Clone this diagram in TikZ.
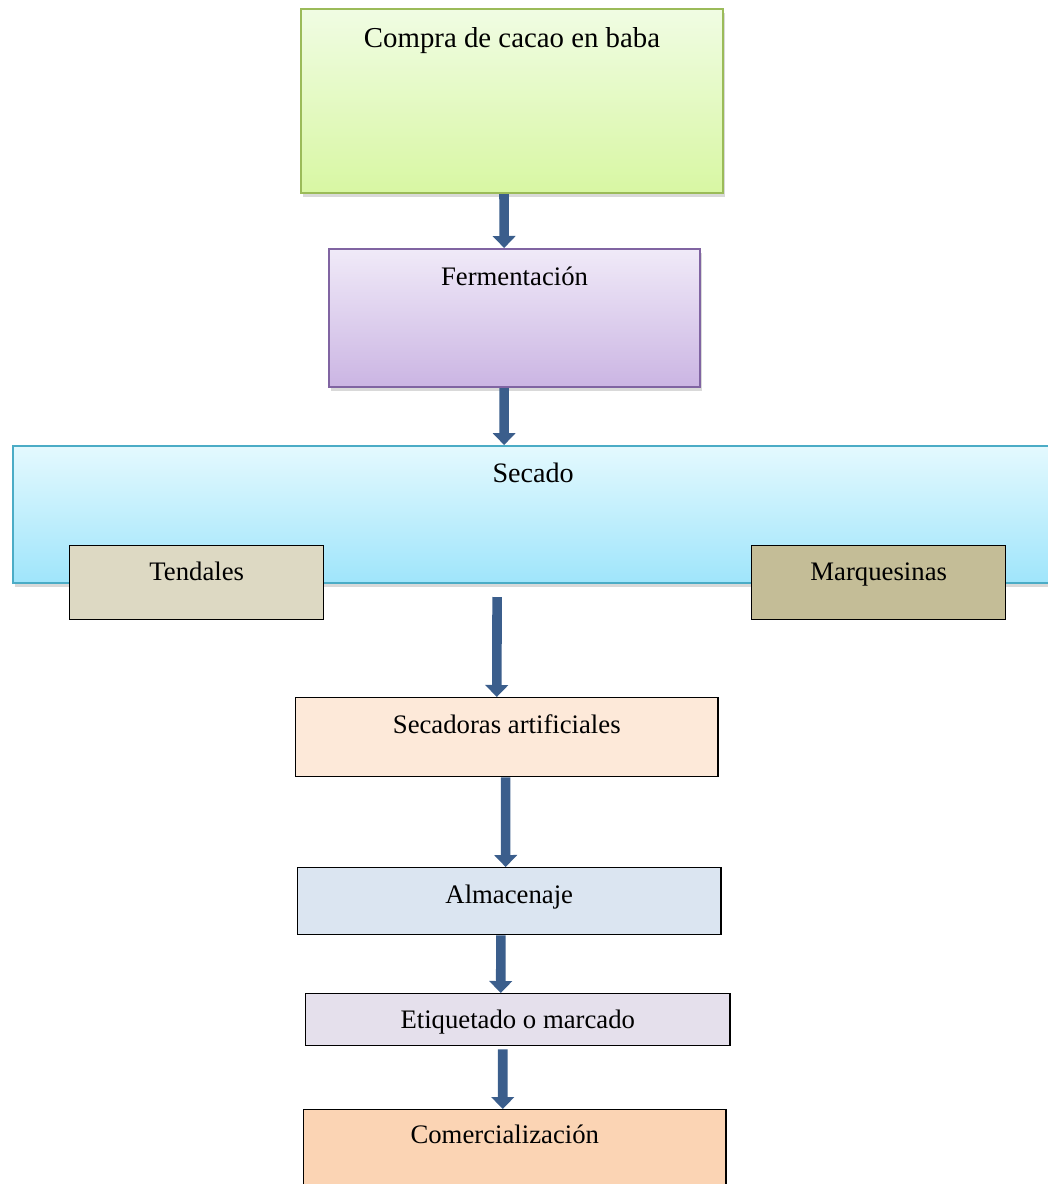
\documentclass[tikz,border=0pt]{standalone}
\usepackage{fontspec}
\setmainfont{Liberation Serif}
\usetikzlibrary{arrows.meta, shadows}

\definecolor{greentop}{HTML}{F0FCE3}
\definecolor{greenbot}{HTML}{D8F7A3}
\definecolor{greenline}{HTML}{9BBB59}
\definecolor{lilactop}{HTML}{F0EAF8}
\definecolor{lilacbot}{HTML}{CBB5E3}
\definecolor{lilacline}{HTML}{8064A2}
\definecolor{skytop}{HTML}{E4F9FE}
\definecolor{skybot}{HTML}{9FE5FB}
\definecolor{skyline}{HTML}{4BACC6}
\definecolor{tendalfill}{HTML}{DDD9C3}
\definecolor{marquefill}{HTML}{C4BD97}
\definecolor{peachfill}{HTML}{FDE9D9}
\definecolor{steelfill}{HTML}{DBE5F1}
\definecolor{mauvefill}{HTML}{E5E0EC}
\definecolor{apricotfill}{HTML}{FBD4B4}
\definecolor{arrowblue}{HTML}{3B5E8C}

\begin{document}
\begin{tikzpicture}[
		x=0.025cm, y=-0.025cm,
		font=\fontsize{19}{22}\selectfont,
		stage/.style={anchor=north west, inner sep=0pt, align=center},
		glow/.style={draw, line width=1.4pt, drop shadow={opacity=0.3, shadow xshift=1.5pt, shadow yshift=-2.5pt}},
		plain/.style={draw=black, line width=1pt},
		flow/.style={draw=arrowblue, line width=0.24cm, -{Triangle[width=0.58cm, length=0.3cm, line width=0pt]}}
		]
		
		\useasboundingbox (0,0) rectangle (1047,1184);
		
		% ==========================================
		% Upper stages
		% ==========================================
		\node (compra) [stage, glow, draw=greenline, top color=greentop, bottom color=greenbot,
		minimum width=10.55cm, text height=0.975cm, text depth=3.625cm,
		font=\fontsize{20.5}{24}\selectfont] at (300,8) {Compra de cacao en baba};
		
		\node (fermentacion) [stage, glow, draw=lilacline, top color=lilactop, bottom color=lilacbot,
		minimum width=9.275cm, text height=0.925cm, text depth=2.525cm] at (328,248) {Fermentación};
		
		% ==========================================
		% Drying and its two ways
		% ==========================================
		\node (secado) [stage, glow, draw=skyline, top color=skytop, bottom color=skybot,
		minimum width=26.2cm, text height=0.9cm, text depth=2.525cm,
		font=\fontsize{20}{24}\selectfont] at (12,445) {Secado\hspace*{0.2cm}};
		
		\node (tendales) [stage, plain, fill=tendalfill,
		minimum width=6.35cm, text height=0.875cm, text depth=0.975cm] at (69,545) {Tendales};
		\node (marquesinas) [stage, plain, fill=marquefill,
		minimum width=6.35cm, text height=0.875cm, text depth=0.975cm] at (751,545) {Marquesinas};
		
		% ==========================================
		% Lower stages
		% ==========================================
		\node (secadoras) [stage, plain, fill=peachfill,
		minimum width=10.55cm, text height=0.9cm, text depth=1.075cm] at (295,697) {Secadoras artificiales};
		
		\node (almacenaje) [stage, plain, fill=steelfill,
		minimum width=10.575cm, text height=0.9cm, text depth=0.775cm] at (297,867) {Almacenaje};
		
		\node (etiquetado) [stage, plain, fill=mauvefill,
		minimum width=10.6cm, text height=0.875cm, text depth=0.425cm] at (305,993) {Etiquetado o marcado};
		
		\node (comercializacion) [stage, plain, fill=apricotfill,
		minimum width=10.55cm, text height=0.85cm, text depth=1.3cm] at (303,1109) {Comercialización\hspace*{0.5cm}};
		
		% Block arrows between the stages
		\draw[flow] ([xshift=-0.2cm]compra.south) -- ([xshift=-0.26cm]fermentacion.north);
		\draw[flow] ([xshift=-0.26cm]fermentacion.south) -- ([xshift=-0.825cm]secado.north);
		\draw[flow] ([xshift=-1cm, yshift=-0.325cm]secado.south) -- ([xshift=-0.25cm]secadoras.north);
		\draw[flow] ([xshift=-0.03cm]secadoras.south) -- ([xshift=-0.09cm]almacenaje.north);
		\draw[flow] ([xshift=-0.21cm]almacenaje.south) -- ([xshift=-0.425cm]etiquetado.north);
		\draw[flow] ([xshift=-0.375cm, yshift=-0.075cm]etiquetado.south) -- ([xshift=-0.3cm]comercializacion.north);
		
	\end{tikzpicture}
\end{document}
